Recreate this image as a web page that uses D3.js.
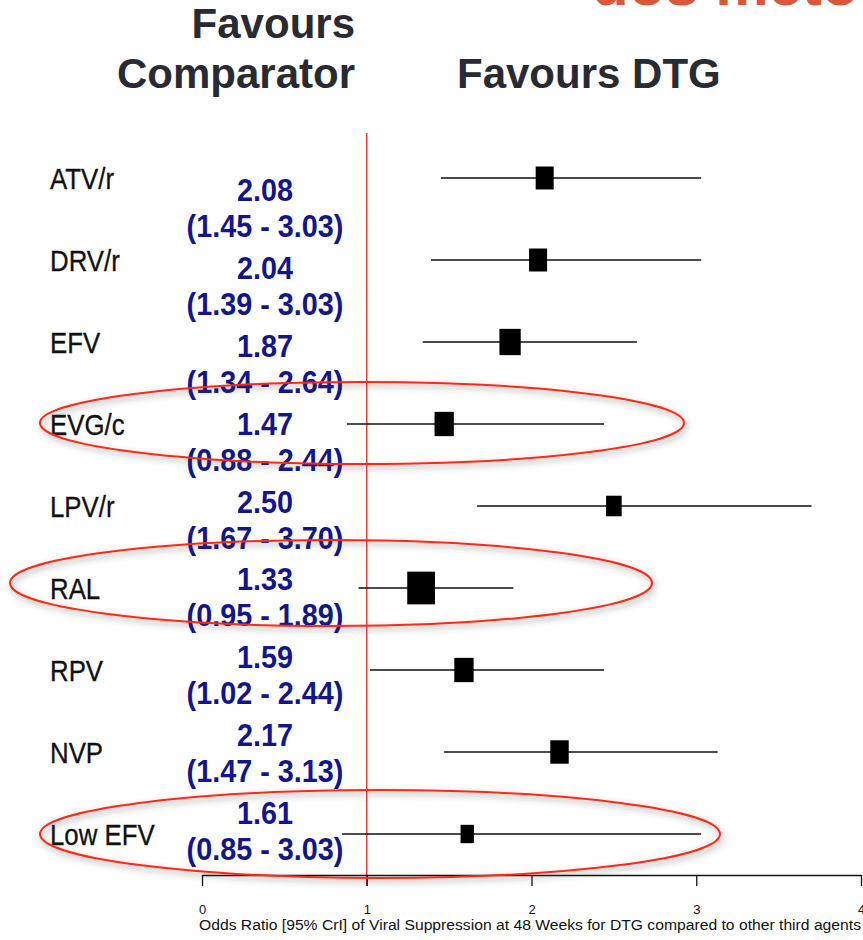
<!DOCTYPE html>
<html>
<head>
<meta charset="utf-8">
<script src="https://cdn.jsdelivr.net/npm/d3@7/dist/d3.min.js"></script>
<style>
  html, body { margin: 0; padding: 0; background: #fff; }
  svg { display: block; }
</style>
</head>
<body>
<svg id="chart" width="863" height="940"></svg>
<script>
// Network meta-analysis: DTG vs other third agents, odds ratio of viral suppression at 48 weeks
const comparators = ["ATV/r", "DRV/r", "EFV", "EVG/c", "LPV/r", "RAL", "RPV", "NVP", "Low EFV"];
const oddsRatio   = [2.08, 2.04, 1.87, 1.47, 2.50, 1.33, 1.59, 2.17, 1.61];
const ciLower     = [1.45, 1.39, 1.34, 0.88, 1.67, 0.95, 1.02, 1.47, 0.85];
const ciUpper     = [3.03, 3.03, 2.64, 2.44, 3.70, 1.89, 2.44, 3.13, 3.03];
const weights     = [4.0, 4.0, 5.6, 4.6, 3.0, 9.5, 4.6, 4.2, 2.2];
const highlighted = ["EVG/c", "RAL", "Low EFV"];
const axisTicks   = [0, 1, 2, 3, 4];
const axisTitle   = "Odds Ratio [95% CrI] of Viral Suppression at 48 Weeks for DTG compared to other third agents";

const rows = comparators.map((name, i) => ({
  name, or: oddsRatio[i], lo: ciLower[i], hi: ciUpper[i], w: weights[i]
}));

const svg = d3.select("#chart");

const x = d3.scaleLinear().domain([0, 4]).range([202, 861]);
const y = d3.scalePoint().domain(comparators).range([178, 834]);
const yText = d3.scalePoint().domain(comparators).range([190, 813]);
const boxW = d3.scaleSqrt().domain([0, 1]).range([0, 9]);

const defs = svg.append("defs");
const shadow = defs.append("filter").attr("id", "shadow")
  .attr("x", "-10%").attr("y", "-40%").attr("width", "120%").attr("height", "180%");
shadow.append("feDropShadow")
  .attr("dx", 2).attr("dy", 3).attr("stdDeviation", 3)
  .attr("flood-color", "#444").attr("flood-opacity", 0.6);

// clipped red heading at the top edge
svg.append("text")
  .attr("x", 592).attr("y", 5)
  .attr("font-family", "Liberation Sans, Arial, sans-serif")
  .attr("font-weight", "bold").attr("font-size", 60)
  .attr("fill", "#d9573b")
  .text("dos méto");

// column headers
const headFont = "Liberation Sans, Arial, Helvetica, sans-serif";
const head = svg.append("g")
  .attr("font-family", headFont).attr("font-weight", "bold")
  .attr("font-size", 42).attr("fill", "#2a2a33");
head.append("text").attr("x", 355).attr("y", 38).attr("text-anchor", "end").text("Favours");
head.append("text").attr("x", 355).attr("y", 88).attr("text-anchor", "end").text("Comparator");
head.append("text").attr("x", 457).attr("y", 88).text("Favours DTG");

// line of no effect
svg.append("line")
  .attr("x1", x(1)).attr("x2", x(1))
  .attr("y1", 133).attr("y2", 886)
  .attr("stroke", "#e8251f").attr("stroke-width", 1.3);

// credible intervals
svg.append("g").selectAll("line").data(rows).join("line")
  .attr("x1", d => x(d.lo)).attr("x2", d => x(d.hi))
  .attr("y1", d => y(d.name)).attr("y2", d => y(d.name))
  .attr("stroke", "#111").attr("stroke-width", 1.6);

// point estimates, box size by weight
svg.append("g").selectAll("rect").data(rows).join("rect")
  .attr("x", d => x(d.or) - boxW(d.w) / 2)
  .attr("y", d => y(d.name) - (boxW(d.w) + 5) / 2)
  .attr("width", d => boxW(d.w))
  .attr("height", d => boxW(d.w) + 5)
  .attr("fill", "#000");

// comparator names
svg.append("g").selectAll("text").data(rows).join("text")
  .attr("transform", d => `translate(50,${y(d.name) + 11}) scale(0.89,1)`)
  .attr("font-family", "Liberation Sans, Arial, sans-serif")
  .attr("font-size", 29).attr("fill", "#111")
  .attr("stroke", "#111").attr("stroke-width", 0.3)
  .text(d => d.name);

// value labels
const fmt = d3.format(".2f");
const vals = svg.append("g")
  .attr("font-family", "Liberation Sans, Arial, sans-serif")
  .attr("font-weight", "bold").attr("font-size", 32).attr("fill", "#13168a")
  .attr("text-anchor", "middle");
vals.selectAll("text.or").data(rows).join("text").attr("class", "or")
  .attr("transform", d => `translate(265,${yText(d.name) + 11}) scale(0.9,1)`)
  .text(d => fmt(d.or));
vals.selectAll("text.ci").data(rows).join("text").attr("class", "ci")
  .attr("transform", d => `translate(265,${yText(d.name) + 47}) scale(0.9,1)`)
  .text(d => `(${fmt(d.lo)} - ${fmt(d.hi)})`);

// x axis
const axis = svg.append("g")
  .attr("transform", "translate(0,875)")
  .call(d3.axisBottom(x).tickValues(axisTicks).tickFormat(d3.format("d"))
    .tickSize(11).tickSizeOuter(0).tickPadding(19));
axis.select(".domain").attr("stroke", "#111").attr("stroke-width", 1.3);
axis.selectAll(".tick line").attr("stroke", "#111").attr("stroke-width", 1.3);
axis.selectAll(".tick text")
  .attr("font-family", "Liberation Sans, Arial, sans-serif")
  .attr("font-size", 13).attr("fill", "#111");

svg.append("text")
  .attr("x", 199).attr("y", 930)
  .attr("font-family", "Liberation Sans, Arial, sans-serif")
  .attr("font-size", 14).attr("fill", "#111")
  .attr("textLength", 662).attr("lengthAdjust", "spacingAndGlyphs")
  .text(axisTitle);

// highlight rings around selected comparators
const rings = {
  "EVG/c":   { cx: 362, dy: -1, rx: 322, ry: 41 },
  "RAL":     { cx: 331, dy: -5, rx: 321, ry: 43 },
  "Low EFV": { cx: 380, dy: 0,  rx: 340, ry: 44 }
};
svg.append("g").selectAll("ellipse").data(highlighted).join("ellipse")
  .attr("cx", d => rings[d].cx)
  .attr("cy", d => y(d) + rings[d].dy)
  .attr("rx", d => rings[d].rx)
  .attr("ry", d => rings[d].ry)
  .attr("fill", "none")
  .attr("stroke", "#ff2a14").attr("stroke-width", 2)
  .attr("filter", "url(#shadow)");
</script>
</body>
</html>
